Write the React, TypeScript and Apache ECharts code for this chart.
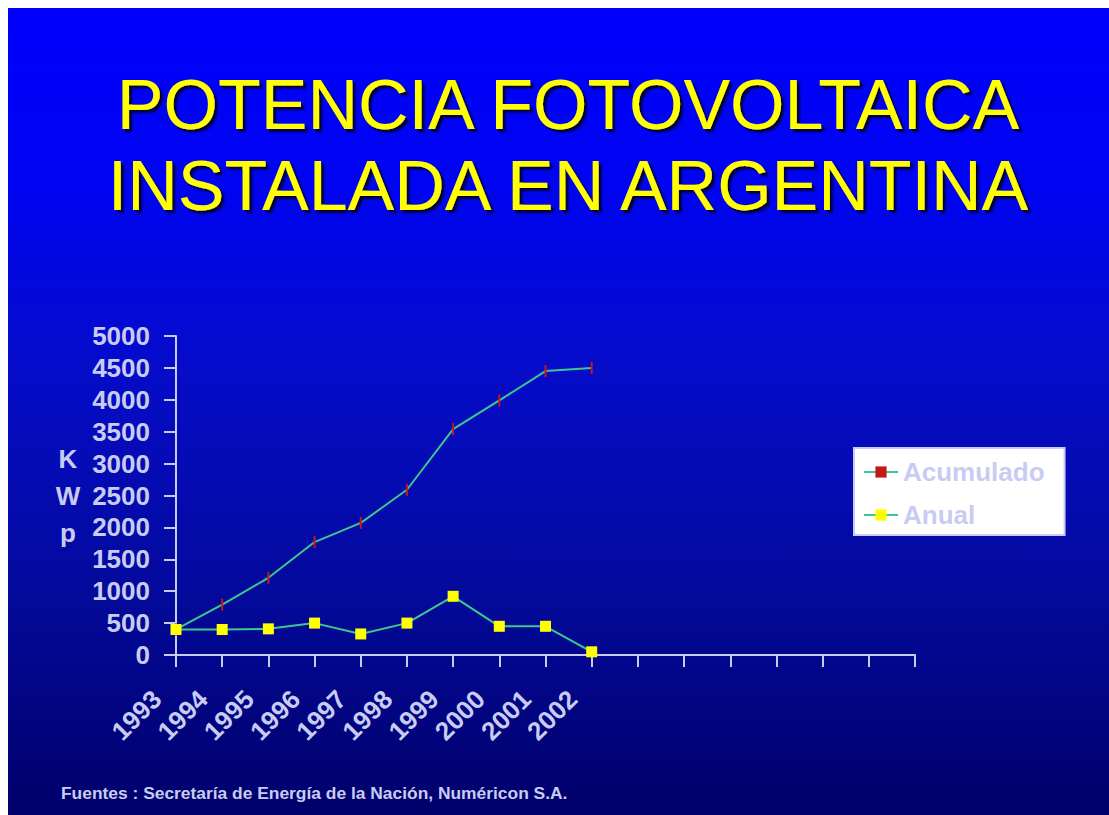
import React, { useEffect, useRef } from 'react';
import * as echarts from 'echarts';

// Category slots along the horizontal axis (one per year, up to 2009)
const axisYears = [
  '1993', '1994', '1995', '1996', '1997', '1998', '1999', '2000', '2001',
  '2002', '2003', '2004', '2005', '2006', '2007', '2008', '2009',
];
// Years that carry data and a visible label
const dataYears = ['1993', '1994', '1995', '1996', '1997', '1998', '1999', '2000', '2001', '2002'];

// Installed PV power, kWp
const acumulado = [400, 790, 1210, 1770, 2070, 2590, 3540, 3990, 4450, 4500];
const anual = [400, 400, 410, 500, 330, 500, 920, 450, 450, 50];

const FONT = '"Liberation Sans", Arial, Helvetica, sans-serif';
const PALE = '#c8ccf2';
const LINE_GREEN = '#3cc890';

export default function App() {
  const ref = useRef<HTMLDivElement>(null);

  useEffect(() => {
    if (!ref.current) return;
    const chart = echarts.init(ref.current, undefined, { renderer: 'svg' });

    chart.setOption({
      animation: false,
      backgroundColor: 'transparent',
      textStyle: { fontFamily: FONT },
      graphic: [
        {
          type: 'text',
          x: 560,
          y: 137,
          style: {
            text: 'POTENCIA FOTOVOLTAICA\nINSTALADA EN ARGENTINA',
            fill: '#ffff00',
            font: `normal 70px ${FONT}`,
            align: 'center',
            verticalAlign: 'middle',
            lineHeight: 81,
            textShadowColor: 'rgba(0,0,40,0.9)',
            textShadowOffsetX: 3,
            textShadowOffsetY: 3,
            textShadowBlur: 2,
          },
        },
        {
          type: 'text',
          x: 53,
          y: 785,
          style: {
            text: 'Fuentes : Secretaría de Energía de la Nación, Numéricon S.A.',
            fill: PALE,
            font: `bold 17.4px ${FONT}`,
            align: 'left',
            verticalAlign: 'middle',
          },
        },
      ],
      legend: {
        orient: 'vertical',
        left: 846,
        top: 440,
        backgroundColor: '#ffffff',
        borderColor: PALE,
        borderWidth: 2,
        borderRadius: 0,
        padding: [11, 20, 7, 9],
        itemGap: 17,
        itemWidth: 34,
        itemHeight: 14,
        textStyle: { color: PALE, fontSize: 26, fontWeight: 'bold', fontFamily: FONT },
        data: ['Acumulado', 'Anual'],
      },
      grid: { left: 168, top: 328, width: 739, height: 319 },
      xAxis: {
        type: 'category',
        data: axisYears,
        boundaryGap: false,
        axisLine: { lineStyle: { color: PALE, width: 2 } },
        axisTick: { show: true, interval: 0, length: 12, lineStyle: { color: PALE, width: 2 } },
        splitLine: { show: false },
        axisLabel: {
          interval: 0,
          rotate: 45,
          margin: 39,
          align: 'right',
          verticalAlign: 'bottom',
          padding: [0, 14, 0, 0],
          color: PALE,
          fontSize: 26,
          fontWeight: 'bold',
          fontFamily: FONT,
          formatter: (v: string) => (dataYears.includes(v) ? v : ''),
        },
      },
      yAxis: {
        type: 'value',
        min: 0,
        max: 5000,
        interval: 500,
        axisLine: { show: true, lineStyle: { color: PALE, width: 2 } },
        axisTick: { show: true, length: 12, lineStyle: { color: PALE, width: 2 } },
        splitLine: { show: false },
        axisLabel: {
          margin: 26,
          color: PALE,
          fontSize: 26,
          fontWeight: 'bold',
          fontFamily: FONT,
          formatter: (v: number) => String(v),
        },
        name: 'K\nW\np',
        nameLocation: 'middle',
        nameRotate: 0,
        nameGap: 108,
        nameTextStyle: {
          align: 'center',
          verticalAlign: 'middle',
          lineHeight: 37,
          color: PALE,
          fontSize: 26,
          fontWeight: 'bold',
          fontFamily: FONT,
        },
      },
      series: [
        {
          name: 'Acumulado',
          type: 'line',
          data: acumulado,
          symbol: 'rect',
          symbolSize: [2, 12],
          itemStyle: { color: '#c41818' },
          lineStyle: { color: LINE_GREEN, width: 2 },
        },
        {
          name: 'Anual',
          type: 'line',
          data: anual,
          symbol: 'rect',
          symbolSize: 11,
          itemStyle: { color: '#ffff00' },
          lineStyle: { color: LINE_GREEN, width: 2 },
        },
      ],
    });

    return () => chart.dispose();
  }, []);

  return (
    <div
      ref={ref}
      style={{
        position: 'fixed',
        left: 8,
        top: 8,
        width: 1101,
        height: 807,
        background:
          'linear-gradient(to bottom, #0000fc 0%, #0004f2 22%, #060cc8 45%, #040a9c 72%, #00006a 100%)',
      }}
    />
  );
}
